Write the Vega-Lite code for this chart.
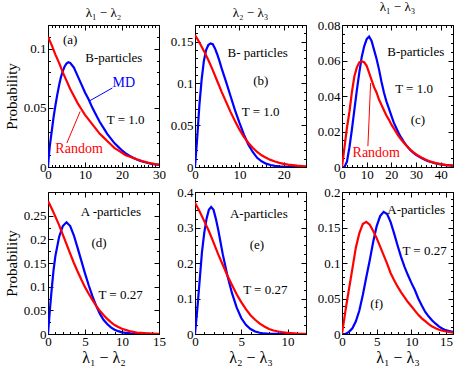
{
"$schema": "https://vega.github.io/schema/vega-lite/v6.json",
"padding": {"left": 3, "top": 0, "right": 1, "bottom": 1},
"bounds": "flush",
"columns": 3,
"spacing": {"row": 25, "column": 36},
"config": {
 "font": "Liberation Serif",
 "view": {"stroke": "#000", "strokeWidth": 1},
 "axis": {"domain": false, "grid": false, "ticks": true, "tickColor": "#000", "tickWidth": 1, "tickOpacity": 1, "labelColor": "#000", "labelFont": "Liberation Serif", "labelFontSize": 13, "labelOverlap": false, "labelFlush": false, "labelPadding": 1, "titleFont": "Liberation Serif", "titleFontWeight": "normal", "titleColor": "#000", "format": ".2~f", "zindex": 1},
 "axisY": {"labelPadding": 2},
 "point": {"opacity": 0},
 "title": {"font": "Liberation Serif", "fontWeight": "normal", "fontSize": 13, "color": "#000", "frame": "group", "offset": 5},
 "text": {"font": "Liberation Serif"}
},
"datasets": {
 "curves": [
  {"p":"a","s":"MD","x":0,"y":0},{"p":"a","s":"MD","x":0.25,"y":0.01},{"p":"a","s":"MD","x":0.5,"y":0.018},{"p":"a","s":"MD","x":1,"y":0.03},{"p":"a","s":"MD","x":1.5,"y":0.042},{"p":"a","s":"MD","x":2,"y":0.052},{"p":"a","s":"MD","x":2.5,"y":0.061},{"p":"a","s":"MD","x":3,"y":0.069},{"p":"a","s":"MD","x":3.5,"y":0.076},{"p":"a","s":"MD","x":4,"y":0.081},{"p":"a","s":"MD","x":4.5,"y":0.085},{"p":"a","s":"MD","x":5,"y":0.0875},{"p":"a","s":"MD","x":5.5,"y":0.0885},{"p":"a","s":"MD","x":6,"y":0.088},{"p":"a","s":"MD","x":6.5,"y":0.086},{"p":"a","s":"MD","x":7,"y":0.084},{"p":"a","s":"MD","x":8,"y":0.077},{"p":"a","s":"MD","x":9,"y":0.07},{"p":"a","s":"MD","x":10,"y":0.063},{"p":"a","s":"MD","x":11,"y":0.057},{"p":"a","s":"MD","x":12,"y":0.05},{"p":"a","s":"MD","x":13,"y":0.044},{"p":"a","s":"MD","x":14,"y":0.038},{"p":"a","s":"MD","x":15,"y":0.033},{"p":"a","s":"MD","x":16,"y":0.028},{"p":"a","s":"MD","x":17,"y":0.024},{"p":"a","s":"MD","x":18,"y":0.02},{"p":"a","s":"MD","x":19,"y":0.017},{"p":"a","s":"MD","x":20,"y":0.014},{"p":"a","s":"MD","x":21,"y":0.0115},{"p":"a","s":"MD","x":22,"y":0.0095},{"p":"a","s":"MD","x":23,"y":0.0078},{"p":"a","s":"MD","x":24,"y":0.0064},{"p":"a","s":"MD","x":25,"y":0.0052},{"p":"a","s":"MD","x":26,"y":0.0042},{"p":"a","s":"MD","x":27,"y":0.0034},{"p":"a","s":"MD","x":28,"y":0.0027},{"p":"a","s":"MD","x":29,"y":0.0022},{"p":"a","s":"MD","x":30,"y":0.0018},
  {"p":"a","s":"Random","x":0,"y":0.11},{"p":"a","s":"Random","x":1,"y":0.103},{"p":"a","s":"Random","x":2,"y":0.095},{"p":"a","s":"Random","x":3,"y":0.088},{"p":"a","s":"Random","x":4,"y":0.08},{"p":"a","s":"Random","x":5,"y":0.073},{"p":"a","s":"Random","x":6,"y":0.066},{"p":"a","s":"Random","x":7,"y":0.06},{"p":"a","s":"Random","x":8,"y":0.054},{"p":"a","s":"Random","x":9,"y":0.049},{"p":"a","s":"Random","x":10,"y":0.044},{"p":"a","s":"Random","x":11,"y":0.04},{"p":"a","s":"Random","x":12,"y":0.036},{"p":"a","s":"Random","x":13,"y":0.032},{"p":"a","s":"Random","x":14,"y":0.028},{"p":"a","s":"Random","x":15,"y":0.025},{"p":"a","s":"Random","x":16,"y":0.022},{"p":"a","s":"Random","x":17,"y":0.019},{"p":"a","s":"Random","x":18,"y":0.016},{"p":"a","s":"Random","x":19,"y":0.014},{"p":"a","s":"Random","x":20,"y":0.012},{"p":"a","s":"Random","x":21,"y":0.01},{"p":"a","s":"Random","x":22,"y":0.0088},{"p":"a","s":"Random","x":23,"y":0.0077},{"p":"a","s":"Random","x":24,"y":0.0065},{"p":"a","s":"Random","x":25,"y":0.0055},{"p":"a","s":"Random","x":26,"y":0.0045},{"p":"a","s":"Random","x":27,"y":0.0037},{"p":"a","s":"Random","x":28,"y":0.003},{"p":"a","s":"Random","x":29,"y":0.0024},{"p":"a","s":"Random","x":30,"y":0.002},
  {"p":"b","s":"MD","x":0,"y":0},{"p":"b","s":"MD","x":0.5,"y":0.035},{"p":"b","s":"MD","x":1,"y":0.075},{"p":"b","s":"MD","x":1.5,"y":0.105},{"p":"b","s":"MD","x":2,"y":0.127},{"p":"b","s":"MD","x":2.5,"y":0.14},{"p":"b","s":"MD","x":3,"y":0.146},{"p":"b","s":"MD","x":3.5,"y":0.148},{"p":"b","s":"MD","x":4,"y":0.147},{"p":"b","s":"MD","x":4.5,"y":0.142},{"p":"b","s":"MD","x":5,"y":0.135},{"p":"b","s":"MD","x":5.5,"y":0.127},{"p":"b","s":"MD","x":6,"y":0.118},{"p":"b","s":"MD","x":7,"y":0.102},{"p":"b","s":"MD","x":8,"y":0.085},{"p":"b","s":"MD","x":9,"y":0.068},{"p":"b","s":"MD","x":10,"y":0.053},{"p":"b","s":"MD","x":11,"y":0.039},{"p":"b","s":"MD","x":12,"y":0.027},{"p":"b","s":"MD","x":13,"y":0.018},{"p":"b","s":"MD","x":14,"y":0.011},{"p":"b","s":"MD","x":15,"y":0.0068},{"p":"b","s":"MD","x":16,"y":0.004},{"p":"b","s":"MD","x":17,"y":0.0024},{"p":"b","s":"MD","x":18,"y":0.0014},{"p":"b","s":"MD","x":19,"y":0.0008},{"p":"b","s":"MD","x":20,"y":0.0005},{"p":"b","s":"MD","x":22,"y":0.0002},{"p":"b","s":"MD","x":25,"y":0},
  {"p":"b","s":"Random","x":0,"y":0.158},{"p":"b","s":"Random","x":1,"y":0.149},{"p":"b","s":"Random","x":2,"y":0.139},{"p":"b","s":"Random","x":3,"y":0.128},{"p":"b","s":"Random","x":4,"y":0.116},{"p":"b","s":"Random","x":5,"y":0.103},{"p":"b","s":"Random","x":6,"y":0.09},{"p":"b","s":"Random","x":7,"y":0.078},{"p":"b","s":"Random","x":8,"y":0.066},{"p":"b","s":"Random","x":9,"y":0.055},{"p":"b","s":"Random","x":10,"y":0.045},{"p":"b","s":"Random","x":11,"y":0.036},{"p":"b","s":"Random","x":12,"y":0.029},{"p":"b","s":"Random","x":13,"y":0.023},{"p":"b","s":"Random","x":14,"y":0.018},{"p":"b","s":"Random","x":15,"y":0.014},{"p":"b","s":"Random","x":16,"y":0.011},{"p":"b","s":"Random","x":17,"y":0.0085},{"p":"b","s":"Random","x":18,"y":0.0065},{"p":"b","s":"Random","x":19,"y":0.005},{"p":"b","s":"Random","x":20,"y":0.0038},{"p":"b","s":"Random","x":21,"y":0.0029},{"p":"b","s":"Random","x":22,"y":0.0022},{"p":"b","s":"Random","x":23,"y":0.0016},{"p":"b","s":"Random","x":24,"y":0.0012},{"p":"b","s":"Random","x":25,"y":0.0009},
  {"p":"c","s":"MD","x":0,"y":0},{"p":"c","s":"MD","x":1,"y":0},{"p":"c","s":"MD","x":2,"y":0.003},{"p":"c","s":"MD","x":3,"y":0.011},{"p":"c","s":"MD","x":4,"y":0.021},{"p":"c","s":"MD","x":5,"y":0.032},{"p":"c","s":"MD","x":6,"y":0.043},{"p":"c","s":"MD","x":7,"y":0.053},{"p":"c","s":"MD","x":8,"y":0.062},{"p":"c","s":"MD","x":9,"y":0.068},{"p":"c","s":"MD","x":10,"y":0.072},{"p":"c","s":"MD","x":11,"y":0.0735},{"p":"c","s":"MD","x":12,"y":0.071},{"p":"c","s":"MD","x":13,"y":0.066},{"p":"c","s":"MD","x":14,"y":0.061},{"p":"c","s":"MD","x":15,"y":0.055},{"p":"c","s":"MD","x":16,"y":0.048},{"p":"c","s":"MD","x":17,"y":0.042},{"p":"c","s":"MD","x":18,"y":0.037},{"p":"c","s":"MD","x":19,"y":0.033},{"p":"c","s":"MD","x":20,"y":0.029},{"p":"c","s":"MD","x":21,"y":0.025},{"p":"c","s":"MD","x":22,"y":0.022},{"p":"c","s":"MD","x":23,"y":0.019},{"p":"c","s":"MD","x":24,"y":0.0165},{"p":"c","s":"MD","x":25,"y":0.0143},{"p":"c","s":"MD","x":26,"y":0.0123},{"p":"c","s":"MD","x":27,"y":0.0107},{"p":"c","s":"MD","x":28,"y":0.0092},{"p":"c","s":"MD","x":29,"y":0.008},{"p":"c","s":"MD","x":30,"y":0.0069},{"p":"c","s":"MD","x":31,"y":0.006},{"p":"c","s":"MD","x":32,"y":0.0052},{"p":"c","s":"MD","x":33,"y":0.0045},{"p":"c","s":"MD","x":34,"y":0.0038},{"p":"c","s":"MD","x":35,"y":0.0033},{"p":"c","s":"MD","x":36,"y":0.0028},{"p":"c","s":"MD","x":38,"y":0.002},{"p":"c","s":"MD","x":40,"y":0.0015},{"p":"c","s":"MD","x":42,"y":0.0011},{"p":"c","s":"MD","x":45,"y":0.0008},
  {"p":"c","s":"Random","x":0,"y":0},{"p":"c","s":"Random","x":1,"y":0.011},{"p":"c","s":"Random","x":2,"y":0.022},{"p":"c","s":"Random","x":3,"y":0.031},{"p":"c","s":"Random","x":4,"y":0.042},{"p":"c","s":"Random","x":5,"y":0.051},{"p":"c","s":"Random","x":6,"y":0.056},{"p":"c","s":"Random","x":7,"y":0.059},{"p":"c","s":"Random","x":8,"y":0.0595},{"p":"c","s":"Random","x":9,"y":0.059},{"p":"c","s":"Random","x":10,"y":0.057},{"p":"c","s":"Random","x":11,"y":0.053},{"p":"c","s":"Random","x":12,"y":0.049},{"p":"c","s":"Random","x":13,"y":0.045},{"p":"c","s":"Random","x":14,"y":0.042},{"p":"c","s":"Random","x":15,"y":0.038},{"p":"c","s":"Random","x":16,"y":0.035},{"p":"c","s":"Random","x":17,"y":0.032},{"p":"c","s":"Random","x":18,"y":0.029},{"p":"c","s":"Random","x":19,"y":0.0267},{"p":"c","s":"Random","x":20,"y":0.024},{"p":"c","s":"Random","x":21,"y":0.0218},{"p":"c","s":"Random","x":22,"y":0.0195},{"p":"c","s":"Random","x":23,"y":0.0173},{"p":"c","s":"Random","x":24,"y":0.0155},{"p":"c","s":"Random","x":25,"y":0.0138},{"p":"c","s":"Random","x":26,"y":0.0122},{"p":"c","s":"Random","x":27,"y":0.0107},{"p":"c","s":"Random","x":28,"y":0.0094},{"p":"c","s":"Random","x":29,"y":0.0082},{"p":"c","s":"Random","x":30,"y":0.0072},{"p":"c","s":"Random","x":31,"y":0.0063},{"p":"c","s":"Random","x":32,"y":0.0055},{"p":"c","s":"Random","x":33,"y":0.0048},{"p":"c","s":"Random","x":34,"y":0.0041},{"p":"c","s":"Random","x":35,"y":0.0035},{"p":"c","s":"Random","x":36,"y":0.003},{"p":"c","s":"Random","x":38,"y":0.0022},{"p":"c","s":"Random","x":40,"y":0.0016},{"p":"c","s":"Random","x":42,"y":0.0012},{"p":"c","s":"Random","x":45,"y":0.0008},
  {"p":"d","s":"MD","x":0,"y":0},{"p":"d","s":"MD","x":0.25,"y":0.05},{"p":"d","s":"MD","x":0.5,"y":0.095},{"p":"d","s":"MD","x":0.75,"y":0.135},{"p":"d","s":"MD","x":1,"y":0.165},{"p":"d","s":"MD","x":1.5,"y":0.205},{"p":"d","s":"MD","x":2,"y":0.228},{"p":"d","s":"MD","x":2.5,"y":0.236},{"p":"d","s":"MD","x":3,"y":0.228},{"p":"d","s":"MD","x":3.5,"y":0.208},{"p":"d","s":"MD","x":4,"y":0.182},{"p":"d","s":"MD","x":4.5,"y":0.155},{"p":"d","s":"MD","x":5,"y":0.128},{"p":"d","s":"MD","x":5.5,"y":0.103},{"p":"d","s":"MD","x":6,"y":0.08},{"p":"d","s":"MD","x":6.5,"y":0.06},{"p":"d","s":"MD","x":7,"y":0.043},{"p":"d","s":"MD","x":7.5,"y":0.03},{"p":"d","s":"MD","x":8,"y":0.021},{"p":"d","s":"MD","x":8.5,"y":0.014},{"p":"d","s":"MD","x":9,"y":0.009},{"p":"d","s":"MD","x":9.5,"y":0.006},{"p":"d","s":"MD","x":10,"y":0.0035},{"p":"d","s":"MD","x":11,"y":0.0012},{"p":"d","s":"MD","x":12,"y":0.0004},{"p":"d","s":"MD","x":13,"y":0.0001},{"p":"d","s":"MD","x":15,"y":0},
  {"p":"d","s":"Random","x":0,"y":0.281},{"p":"d","s":"Random","x":0.5,"y":0.265},{"p":"d","s":"Random","x":1,"y":0.248},{"p":"d","s":"Random","x":1.5,"y":0.23},{"p":"d","s":"Random","x":2,"y":0.21},{"p":"d","s":"Random","x":2.5,"y":0.19},{"p":"d","s":"Random","x":3,"y":0.17},{"p":"d","s":"Random","x":3.5,"y":0.15},{"p":"d","s":"Random","x":4,"y":0.132},{"p":"d","s":"Random","x":4.5,"y":0.115},{"p":"d","s":"Random","x":5,"y":0.099},{"p":"d","s":"Random","x":5.5,"y":0.085},{"p":"d","s":"Random","x":6,"y":0.072},{"p":"d","s":"Random","x":6.5,"y":0.06},{"p":"d","s":"Random","x":7,"y":0.049},{"p":"d","s":"Random","x":7.5,"y":0.04},{"p":"d","s":"Random","x":8,"y":0.032},{"p":"d","s":"Random","x":8.5,"y":0.025},{"p":"d","s":"Random","x":9,"y":0.019},{"p":"d","s":"Random","x":9.5,"y":0.015},{"p":"d","s":"Random","x":10,"y":0.011},{"p":"d","s":"Random","x":11,"y":0.006},{"p":"d","s":"Random","x":12,"y":0.003},{"p":"d","s":"Random","x":13,"y":0.0017},{"p":"d","s":"Random","x":14,"y":0.001},{"p":"d","s":"Random","x":15,"y":0.0005},
  {"p":"e","s":"MD","x":0,"y":0},{"p":"e","s":"MD","x":0.25,"y":0.07},{"p":"e","s":"MD","x":0.5,"y":0.15},{"p":"e","s":"MD","x":0.75,"y":0.23},{"p":"e","s":"MD","x":1,"y":0.285},{"p":"e","s":"MD","x":1.25,"y":0.325},{"p":"e","s":"MD","x":1.5,"y":0.35},{"p":"e","s":"MD","x":1.75,"y":0.358},{"p":"e","s":"MD","x":2,"y":0.35},{"p":"e","s":"MD","x":2.25,"y":0.325},{"p":"e","s":"MD","x":2.5,"y":0.295},{"p":"e","s":"MD","x":2.75,"y":0.26},{"p":"e","s":"MD","x":3,"y":0.225},{"p":"e","s":"MD","x":3.5,"y":0.165},{"p":"e","s":"MD","x":4,"y":0.115},{"p":"e","s":"MD","x":4.5,"y":0.075},{"p":"e","s":"MD","x":5,"y":0.045},{"p":"e","s":"MD","x":5.5,"y":0.026},{"p":"e","s":"MD","x":6,"y":0.014},{"p":"e","s":"MD","x":6.5,"y":0.007},{"p":"e","s":"MD","x":7,"y":0.0035},{"p":"e","s":"MD","x":7.5,"y":0.0015},{"p":"e","s":"MD","x":8,"y":0.0006},{"p":"e","s":"MD","x":9,"y":0.0001},{"p":"e","s":"MD","x":12,"y":0},
  {"p":"e","s":"Random","x":0,"y":0.37},{"p":"e","s":"Random","x":0.5,"y":0.345},{"p":"e","s":"Random","x":1,"y":0.318},{"p":"e","s":"Random","x":1.5,"y":0.29},{"p":"e","s":"Random","x":2,"y":0.258},{"p":"e","s":"Random","x":2.5,"y":0.225},{"p":"e","s":"Random","x":3,"y":0.195},{"p":"e","s":"Random","x":3.5,"y":0.165},{"p":"e","s":"Random","x":4,"y":0.138},{"p":"e","s":"Random","x":4.5,"y":0.112},{"p":"e","s":"Random","x":5,"y":0.09},{"p":"e","s":"Random","x":5.5,"y":0.07},{"p":"e","s":"Random","x":6,"y":0.053},{"p":"e","s":"Random","x":6.5,"y":0.04},{"p":"e","s":"Random","x":7,"y":0.029},{"p":"e","s":"Random","x":7.5,"y":0.021},{"p":"e","s":"Random","x":8,"y":0.014},{"p":"e","s":"Random","x":8.5,"y":0.01},{"p":"e","s":"Random","x":9,"y":0.007},{"p":"e","s":"Random","x":9.5,"y":0.005},{"p":"e","s":"Random","x":10,"y":0.003},{"p":"e","s":"Random","x":11,"y":0.0012},{"p":"e","s":"Random","x":12,"y":0.0005},
  {"p":"f","s":"MD","x":0,"y":0},{"p":"f","s":"MD","x":0.5,"y":0},{"p":"f","s":"MD","x":1,"y":0.003},{"p":"f","s":"MD","x":1.5,"y":0.008},{"p":"f","s":"MD","x":2,"y":0.018},{"p":"f","s":"MD","x":2.5,"y":0.033},{"p":"f","s":"MD","x":3,"y":0.055},{"p":"f","s":"MD","x":3.5,"y":0.08},{"p":"f","s":"MD","x":4,"y":0.104},{"p":"f","s":"MD","x":4.5,"y":0.13},{"p":"f","s":"MD","x":5,"y":0.152},{"p":"f","s":"MD","x":5.5,"y":0.166},{"p":"f","s":"MD","x":6,"y":0.172},{"p":"f","s":"MD","x":6.5,"y":0.169},{"p":"f","s":"MD","x":7,"y":0.158},{"p":"f","s":"MD","x":7.5,"y":0.142},{"p":"f","s":"MD","x":8,"y":0.125},{"p":"f","s":"MD","x":8.5,"y":0.109},{"p":"f","s":"MD","x":9,"y":0.095},{"p":"f","s":"MD","x":9.5,"y":0.083},{"p":"f","s":"MD","x":10,"y":0.072},{"p":"f","s":"MD","x":10.5,"y":0.062},{"p":"f","s":"MD","x":11,"y":0.05},{"p":"f","s":"MD","x":11.5,"y":0.04},{"p":"f","s":"MD","x":12,"y":0.031},{"p":"f","s":"MD","x":12.5,"y":0.0245},{"p":"f","s":"MD","x":13,"y":0.019},{"p":"f","s":"MD","x":13.5,"y":0.0145},{"p":"f","s":"MD","x":14,"y":0.0104},{"p":"f","s":"MD","x":14.5,"y":0.0075},{"p":"f","s":"MD","x":15,"y":0.005},{"p":"f","s":"MD","x":16,"y":0.003},
  {"p":"f","s":"Random","x":0,"y":0},{"p":"f","s":"Random","x":0.5,"y":0.033},{"p":"f","s":"Random","x":1,"y":0.063},{"p":"f","s":"Random","x":1.5,"y":0.092},{"p":"f","s":"Random","x":2,"y":0.122},{"p":"f","s":"Random","x":2.5,"y":0.142},{"p":"f","s":"Random","x":3,"y":0.155},{"p":"f","s":"Random","x":3.5,"y":0.158},{"p":"f","s":"Random","x":4,"y":0.154},{"p":"f","s":"Random","x":4.5,"y":0.145},{"p":"f","s":"Random","x":5,"y":0.135},{"p":"f","s":"Random","x":5.5,"y":0.123},{"p":"f","s":"Random","x":6,"y":0.111},{"p":"f","s":"Random","x":6.5,"y":0.099},{"p":"f","s":"Random","x":7,"y":0.086},{"p":"f","s":"Random","x":7.5,"y":0.076},{"p":"f","s":"Random","x":8,"y":0.067},{"p":"f","s":"Random","x":8.5,"y":0.059},{"p":"f","s":"Random","x":9,"y":0.052},{"p":"f","s":"Random","x":9.5,"y":0.045},{"p":"f","s":"Random","x":10,"y":0.039},{"p":"f","s":"Random","x":10.5,"y":0.033},{"p":"f","s":"Random","x":11,"y":0.027},{"p":"f","s":"Random","x":11.5,"y":0.022},{"p":"f","s":"Random","x":12,"y":0.018},{"p":"f","s":"Random","x":12.5,"y":0.014},{"p":"f","s":"Random","x":13,"y":0.0105},{"p":"f","s":"Random","x":13.5,"y":0.008},{"p":"f","s":"Random","x":14,"y":0.006},{"p":"f","s":"Random","x":14.5,"y":0.0045},{"p":"f","s":"Random","x":15,"y":0.0035},{"p":"f","s":"Random","x":16,"y":0.002}
 ],
 "labels": [
  {"p":"a","t":"(a)","x":6.0,"y":0.107,"s":"none"},{"p":"a","t":"B-particles","x":17.8,"y":0.092,"s":"none"},{"p":"a","t":"MD","x":20.5,"y":0.071,"s":"MD"},{"p":"a","t":"T = 1.0","x":21,"y":0.04,"s":"none"},{"p":"a","t":"Random","x":8.4,"y":0.0155,"s":"Random"},
  {"p":"b","t":"B- particles","x":14.1,"y":0.1365,"s":"none"},{"p":"b","t":"(b)","x":14.8,"y":0.1026,"s":"none"},{"p":"b","t":"T = 1.0","x":14.8,"y":0.0659,"s":"none"},
  {"p":"c","t":"B-particles","x":29.9,"y":0.0648,"s":"none"},{"p":"c","t":"T = 1.0","x":29.2,"y":0.0441,"s":"none"},{"p":"c","t":"(c)","x":30.8,"y":0.0266,"s":"none"},{"p":"c","t":"Random","x":13.9,"y":0.0079,"s":"Random"},
  {"p":"d","t":"A -particles","x":8.5,"y":0.257,"s":"none"},{"p":"d","t":"(d)","x":6.9,"y":0.192,"s":"none"},{"p":"d","t":"T = 0.27","x":9.8,"y":0.0817,"s":"none"},
  {"p":"e","t":"A-particles","x":6.9,"y":0.339,"s":"none"},{"p":"e","t":"(e)","x":6.7,"y":0.2516,"s":"none"},{"p":"e","t":"T = 0.27","x":7.6,"y":0.125,"s":"none"},
  {"p":"f","t":"A-particles","x":10.7,"y":0.175,"s":"none"},{"p":"f","t":"T = 0.27","x":11.9,"y":0.117,"s":"none"},{"p":"f","t":"(f)","x":5.0,"y":0.042,"s":"none"}
 ],
 "pointers": [
  {"p":"a","s":"MD","x":17.4,"y":0.0668,"x2":11.3,"y2":0.056},
  {"p":"a","s":"Random","x":5.1,"y":0.0203,"x2":8.7,"y2":0.047},
  {"p":"c","s":"Random","x":10.5,"y":0.0117,"x2":11.6,"y2":0.0473}
 ]
},
"concat": [
 {
  "width": 111, "height": 142, "title": "λ₁ − λ₂",
  "resolve": {"axis": {"x": "independent", "y": "independent"}},
  "layer": [
   {"data": {"name": "curves"}, "transform": [{"filter": "datum.p === 'a'"}],
    "mark": {"type": "line", "strokeWidth": 2.2, "clip": true},
    "encoding": {
     "x": {"field": "x", "type": "quantitative", "scale": {"domain": [0, 30], "nice": false}, "axis": {"orient": "bottom", "title": null, "ticks": false, "values": [0,10,20,30]}},
     "y": {"field": "y", "type": "quantitative", "scale": {"domain": [0, 0.12], "nice": false}, "axis": {"orient": "left", "title": "Probability", "titleFontSize": 15, "titlePadding": 4, "ticks": false, "values": [0,0.05,0.1]}},
     "color": {"field": "s", "type": "nominal", "scale": {"domain": ["MD", "Random", "none"], "range": ["#0000ff", "#ff0000", "#000000"]}, "legend": null}
    }},
   {"data": {"name": "labels"}, "transform": [{"filter": "datum.p === 'a'"}],
    "mark": {"type": "text", "align": "center", "baseline": "middle"},
    "encoding": {
     "x": {"field": "x", "type": "quantitative", "scale": {"domain": [0, 30], "nice": false}, "axis": {"orient": "bottom", "title": null, "labels": false, "tickSize": 5, "offset": -5, "values": [0,10,20,30]}},
     "y": {"field": "y", "type": "quantitative", "scale": {"domain": [0, 0.12], "nice": false}, "axis": {"orient": "left", "title": null, "labels": false, "tickSize": 5, "offset": -5, "values": [0,0.05,0.1]}},
     "text": {"field": "t"},
     "size": {"condition": {"test": "datum.s !== 'none'", "value": 14}, "value": 13},
     "color": {"field": "s", "type": "nominal", "scale": {"domain": ["MD", "Random", "none"], "range": ["#0000ff", "#ff0000", "#000000"]}, "legend": null}
    }},
   {"data": {"name": "pointers"}, "transform": [{"filter": "false"}], "mark": "point",
    "encoding": {
     "x": {"field": "x", "type": "quantitative", "scale": {"domain": [0, 30], "nice": false}, "axis": {"orient": "bottom", "title": null, "labels": false, "tickSize": 2.5, "offset": -2.5, "values": [0,1,2,3,4,5,6,7,8,9,10,11,12,13,14,15,16,17,18,19,20,21,22,23,24,25,26,27,28,29,30]}},
     "y": {"field": "y", "type": "quantitative", "scale": {"domain": [0, 0.12], "nice": false}, "axis": {"orient": "left", "title": null, "labels": false, "tickSize": 2.5, "offset": -2.5, "values": [0,0.01,0.02,0.03,0.04,0.05,0.06,0.07,0.08,0.09,0.1,0.11,0.12]}}
    }},
   {"data": {"name": "pointers"}, "transform": [{"filter": "false"}], "mark": "point",
    "encoding": {
     "x": {"field": "x", "type": "quantitative", "scale": {"domain": [0, 30], "nice": false}, "axis": {"orient": "top", "title": null, "labels": false, "tickSize": 5, "offset": -5, "values": [0,10,20,30]}},
     "y": {"field": "y", "type": "quantitative", "scale": {"domain": [0, 0.12], "nice": false}, "axis": {"orient": "right", "title": null, "labels": false, "tickSize": 5, "offset": -5, "values": [0,0.05,0.1]}}
    }},
   {"data": {"name": "pointers"}, "transform": [{"filter": "false"}], "mark": "point",
    "encoding": {
     "x": {"field": "x", "type": "quantitative", "scale": {"domain": [0, 30], "nice": false}, "axis": {"orient": "top", "title": null, "labels": false, "tickSize": 2.5, "offset": -2.5, "values": [0,1,2,3,4,5,6,7,8,9,10,11,12,13,14,15,16,17,18,19,20,21,22,23,24,25,26,27,28,29,30]}},
     "y": {"field": "y", "type": "quantitative", "scale": {"domain": [0, 0.12], "nice": false}, "axis": {"orient": "right", "title": null, "labels": false, "tickSize": 2.5, "offset": -2.5, "values": [0,0.01,0.02,0.03,0.04,0.05,0.06,0.07,0.08,0.09,0.1,0.11,0.12]}}
    }},
   {"data": {"name": "pointers"}, "transform": [{"filter": "datum.p === 'a'"}],
    "mark": {"type": "rule", "strokeWidth": 1},
    "encoding": {
     "x": {"field": "x", "type": "quantitative", "scale": {"domain": [0, 30], "nice": false}, "axis": null},
     "y": {"field": "y", "type": "quantitative", "scale": {"domain": [0, 0.12], "nice": false}, "axis": null},
     "x2": {"field": "x2"}, "y2": {"field": "y2"},
     "color": {"field": "s", "type": "nominal", "scale": {"domain": ["MD", "Random", "none"], "range": ["#0000ff", "#ff0000", "#000000"]}, "legend": null}
    }}
  ]
 },
 {
  "width": 111, "height": 142, "title": "λ₂ − λ₃",
  "resolve": {"axis": {"x": "independent", "y": "independent"}},
  "layer": [
   {"data": {"name": "curves"}, "transform": [{"filter": "datum.p === 'b'"}],
    "mark": {"type": "line", "strokeWidth": 2.2, "clip": true},
    "encoding": {
     "x": {"field": "x", "type": "quantitative", "scale": {"domain": [0, 25], "nice": false}, "axis": {"orient": "bottom", "title": null, "ticks": false, "values": [0,10,20]}},
     "y": {"field": "y", "type": "quantitative", "scale": {"domain": [0, 0.17], "nice": false}, "axis": {"orient": "left", "title": null, "ticks": false, "values": [0,0.05,0.1,0.15]}},
     "color": {"field": "s", "type": "nominal", "scale": {"domain": ["MD", "Random", "none"], "range": ["#0000ff", "#ff0000", "#000000"]}, "legend": null}
    }},
   {"data": {"name": "labels"}, "transform": [{"filter": "datum.p === 'b'"}],
    "mark": {"type": "text", "align": "center", "baseline": "middle"},
    "encoding": {
     "x": {"field": "x", "type": "quantitative", "scale": {"domain": [0, 25], "nice": false}, "axis": {"orient": "bottom", "title": null, "labels": false, "tickSize": 5, "offset": -5, "values": [0,10,20]}},
     "y": {"field": "y", "type": "quantitative", "scale": {"domain": [0, 0.17], "nice": false}, "axis": {"orient": "left", "title": null, "labels": false, "tickSize": 5, "offset": -5, "values": [0,0.05,0.1,0.15]}},
     "text": {"field": "t"},
     "size": {"condition": {"test": "datum.s !== 'none'", "value": 14}, "value": 13},
     "color": {"field": "s", "type": "nominal", "scale": {"domain": ["MD", "Random", "none"], "range": ["#0000ff", "#ff0000", "#000000"]}, "legend": null}
    }},
   {"data": {"name": "pointers"}, "transform": [{"filter": "false"}], "mark": "point",
    "encoding": {
     "x": {"field": "x", "type": "quantitative", "scale": {"domain": [0, 25], "nice": false}, "axis": {"orient": "bottom", "title": null, "labels": false, "tickSize": 2.5, "offset": -2.5, "values": [0,1,2,3,4,5,6,7,8,9,10,11,12,13,14,15,16,17,18,19,20,21,22,23,24,25]}},
     "y": {"field": "y", "type": "quantitative", "scale": {"domain": [0, 0.17], "nice": false}, "axis": {"orient": "left", "title": null, "labels": false, "tickSize": 2.5, "offset": -2.5, "values": [0,0.01,0.02,0.03,0.04,0.05,0.06,0.07,0.08,0.09,0.1,0.11,0.12,0.13,0.14,0.15,0.16,0.17]}}
    }},
   {"data": {"name": "pointers"}, "transform": [{"filter": "false"}], "mark": "point",
    "encoding": {
     "x": {"field": "x", "type": "quantitative", "scale": {"domain": [0, 25], "nice": false}, "axis": {"orient": "top", "title": null, "labels": false, "tickSize": 5, "offset": -5, "values": [0,10,20]}},
     "y": {"field": "y", "type": "quantitative", "scale": {"domain": [0, 0.17], "nice": false}, "axis": {"orient": "right", "title": null, "labels": false, "tickSize": 5, "offset": -5, "values": [0,0.05,0.1,0.15]}}
    }},
   {"data": {"name": "pointers"}, "transform": [{"filter": "false"}], "mark": "point",
    "encoding": {
     "x": {"field": "x", "type": "quantitative", "scale": {"domain": [0, 25], "nice": false}, "axis": {"orient": "top", "title": null, "labels": false, "tickSize": 2.5, "offset": -2.5, "values": [0,1,2,3,4,5,6,7,8,9,10,11,12,13,14,15,16,17,18,19,20,21,22,23,24,25]}},
     "y": {"field": "y", "type": "quantitative", "scale": {"domain": [0, 0.17], "nice": false}, "axis": {"orient": "right", "title": null, "labels": false, "tickSize": 2.5, "offset": -2.5, "values": [0,0.01,0.02,0.03,0.04,0.05,0.06,0.07,0.08,0.09,0.1,0.11,0.12,0.13,0.14,0.15,0.16,0.17]}}
    }}
  ]
 },
 {
  "width": 111, "height": 142, "title": "λ₁ − λ₃",
  "resolve": {"axis": {"x": "independent", "y": "independent"}},
  "layer": [
   {"data": {"name": "curves"}, "transform": [{"filter": "datum.p === 'c'"}],
    "mark": {"type": "line", "strokeWidth": 2.2, "clip": true},
    "encoding": {
     "x": {"field": "x", "type": "quantitative", "scale": {"domain": [0, 45], "nice": false}, "axis": {"orient": "bottom", "title": null, "ticks": false, "values": [0,10,20,30,40]}},
     "y": {"field": "y", "type": "quantitative", "scale": {"domain": [0, 0.08], "nice": false}, "axis": {"orient": "left", "title": null, "ticks": false, "values": [0,0.02,0.04,0.06,0.08]}},
     "color": {"field": "s", "type": "nominal", "scale": {"domain": ["MD", "Random", "none"], "range": ["#0000ff", "#ff0000", "#000000"]}, "legend": null}
    }},
   {"data": {"name": "labels"}, "transform": [{"filter": "datum.p === 'c'"}],
    "mark": {"type": "text", "align": "center", "baseline": "middle"},
    "encoding": {
     "x": {"field": "x", "type": "quantitative", "scale": {"domain": [0, 45], "nice": false}, "axis": {"orient": "bottom", "title": null, "labels": false, "tickSize": 5, "offset": -5, "values": [0,10,20,30,40]}},
     "y": {"field": "y", "type": "quantitative", "scale": {"domain": [0, 0.08], "nice": false}, "axis": {"orient": "left", "title": null, "labels": false, "tickSize": 5, "offset": -5, "values": [0,0.02,0.04,0.06,0.08]}},
     "text": {"field": "t"},
     "size": {"condition": {"test": "datum.s !== 'none'", "value": 14}, "value": 13},
     "color": {"field": "s", "type": "nominal", "scale": {"domain": ["MD", "Random", "none"], "range": ["#0000ff", "#ff0000", "#000000"]}, "legend": null}
    }},
   {"data": {"name": "pointers"}, "transform": [{"filter": "false"}], "mark": "point",
    "encoding": {
     "x": {"field": "x", "type": "quantitative", "scale": {"domain": [0, 45], "nice": false}, "axis": {"orient": "bottom", "title": null, "labels": false, "tickSize": 2.5, "offset": -2.5, "values": [0,2,4,6,8,10,12,14,16,18,20,22,24,26,28,30,32,34,36,38,40,42,44]}},
     "y": {"field": "y", "type": "quantitative", "scale": {"domain": [0, 0.08], "nice": false}, "axis": {"orient": "left", "title": null, "labels": false, "tickSize": 2.5, "offset": -2.5, "values": [0,0.005,0.01,0.015,0.02,0.025,0.03,0.035,0.04,0.045,0.05,0.055,0.06,0.065,0.07,0.075,0.08]}}
    }},
   {"data": {"name": "pointers"}, "transform": [{"filter": "false"}], "mark": "point",
    "encoding": {
     "x": {"field": "x", "type": "quantitative", "scale": {"domain": [0, 45], "nice": false}, "axis": {"orient": "top", "title": null, "labels": false, "tickSize": 5, "offset": -5, "values": [0,10,20,30,40]}},
     "y": {"field": "y", "type": "quantitative", "scale": {"domain": [0, 0.08], "nice": false}, "axis": {"orient": "right", "title": null, "labels": false, "tickSize": 5, "offset": -5, "values": [0,0.02,0.04,0.06,0.08]}}
    }},
   {"data": {"name": "pointers"}, "transform": [{"filter": "false"}], "mark": "point",
    "encoding": {
     "x": {"field": "x", "type": "quantitative", "scale": {"domain": [0, 45], "nice": false}, "axis": {"orient": "top", "title": null, "labels": false, "tickSize": 2.5, "offset": -2.5, "values": [0,2,4,6,8,10,12,14,16,18,20,22,24,26,28,30,32,34,36,38,40,42,44]}},
     "y": {"field": "y", "type": "quantitative", "scale": {"domain": [0, 0.08], "nice": false}, "axis": {"orient": "right", "title": null, "labels": false, "tickSize": 2.5, "offset": -2.5, "values": [0,0.005,0.01,0.015,0.02,0.025,0.03,0.035,0.04,0.045,0.05,0.055,0.06,0.065,0.07,0.075,0.08]}}
    }},
   {"data": {"name": "pointers"}, "transform": [{"filter": "datum.p === 'c'"}],
    "mark": {"type": "rule", "strokeWidth": 1},
    "encoding": {
     "x": {"field": "x", "type": "quantitative", "scale": {"domain": [0, 45], "nice": false}, "axis": null},
     "y": {"field": "y", "type": "quantitative", "scale": {"domain": [0, 0.08], "nice": false}, "axis": null},
     "x2": {"field": "x2"}, "y2": {"field": "y2"},
     "color": {"field": "s", "type": "nominal", "scale": {"domain": ["MD", "Random", "none"], "range": ["#0000ff", "#ff0000", "#000000"]}, "legend": null}
    }}
  ]
 },
 {
  "width": 111, "height": 142,
  "resolve": {"axis": {"x": "independent", "y": "independent"}},
  "layer": [
   {"data": {"name": "curves"}, "transform": [{"filter": "datum.p === 'd'"}],
    "mark": {"type": "line", "strokeWidth": 2.2, "clip": true},
    "encoding": {
     "x": {"field": "x", "type": "quantitative", "scale": {"domain": [0, 15], "nice": false}, "axis": {"orient": "bottom", "title": "λ₁ − λ₂", "titleFontSize": 16, "titlePadding": 1, "ticks": false, "values": [0,5,10,15]}},
     "y": {"field": "y", "type": "quantitative", "scale": {"domain": [0, 0.3], "nice": false}, "axis": {"orient": "left", "title": "Probability", "titleFontSize": 15, "titlePadding": 4, "ticks": false, "values": [0,0.05,0.1,0.15,0.2,0.25]}},
     "color": {"field": "s", "type": "nominal", "scale": {"domain": ["MD", "Random", "none"], "range": ["#0000ff", "#ff0000", "#000000"]}, "legend": null}
    }},
   {"data": {"name": "labels"}, "transform": [{"filter": "datum.p === 'd'"}],
    "mark": {"type": "text", "align": "center", "baseline": "middle"},
    "encoding": {
     "x": {"field": "x", "type": "quantitative", "scale": {"domain": [0, 15], "nice": false}, "axis": {"orient": "bottom", "title": null, "labels": false, "tickSize": 5, "offset": -5, "values": [0,5,10,15]}},
     "y": {"field": "y", "type": "quantitative", "scale": {"domain": [0, 0.3], "nice": false}, "axis": {"orient": "left", "title": null, "labels": false, "tickSize": 5, "offset": -5, "values": [0,0.05,0.1,0.15,0.2,0.25]}},
     "text": {"field": "t"},
     "size": {"condition": {"test": "datum.s !== 'none'", "value": 14}, "value": 13},
     "color": {"field": "s", "type": "nominal", "scale": {"domain": ["MD", "Random", "none"], "range": ["#0000ff", "#ff0000", "#000000"]}, "legend": null}
    }},
   {"data": {"name": "pointers"}, "transform": [{"filter": "false"}], "mark": "point",
    "encoding": {
     "x": {"field": "x", "type": "quantitative", "scale": {"domain": [0, 15], "nice": false}, "axis": {"orient": "bottom", "title": null, "labels": false, "tickSize": 2.5, "offset": -2.5, "values": [0,1,2,3,4,5,6,7,8,9,10,11,12,13,14,15]}},
     "y": {"field": "y", "type": "quantitative", "scale": {"domain": [0, 0.3], "nice": false}, "axis": {"orient": "left", "title": null, "labels": false, "tickSize": 2.5, "offset": -2.5, "values": [0,0.025,0.05,0.075,0.1,0.125,0.15,0.175,0.2,0.225,0.25,0.275]}}
    }},
   {"data": {"name": "pointers"}, "transform": [{"filter": "false"}], "mark": "point",
    "encoding": {
     "x": {"field": "x", "type": "quantitative", "scale": {"domain": [0, 15], "nice": false}, "axis": {"orient": "top", "title": null, "labels": false, "tickSize": 5, "offset": -5, "values": [0,5,10,15]}},
     "y": {"field": "y", "type": "quantitative", "scale": {"domain": [0, 0.3], "nice": false}, "axis": {"orient": "right", "title": null, "labels": false, "tickSize": 5, "offset": -5, "values": [0,0.05,0.1,0.15,0.2,0.25]}}
    }},
   {"data": {"name": "pointers"}, "transform": [{"filter": "false"}], "mark": "point",
    "encoding": {
     "x": {"field": "x", "type": "quantitative", "scale": {"domain": [0, 15], "nice": false}, "axis": {"orient": "top", "title": null, "labels": false, "tickSize": 2.5, "offset": -2.5, "values": [0,1,2,3,4,5,6,7,8,9,10,11,12,13,14,15]}},
     "y": {"field": "y", "type": "quantitative", "scale": {"domain": [0, 0.3], "nice": false}, "axis": {"orient": "right", "title": null, "labels": false, "tickSize": 2.5, "offset": -2.5, "values": [0,0.025,0.05,0.075,0.1,0.125,0.15,0.175,0.2,0.225,0.25,0.275]}}
    }}
  ]
 },
 {
  "width": 111, "height": 142,
  "resolve": {"axis": {"x": "independent", "y": "independent"}},
  "layer": [
   {"data": {"name": "curves"}, "transform": [{"filter": "datum.p === 'e'"}],
    "mark": {"type": "line", "strokeWidth": 2.2, "clip": true},
    "encoding": {
     "x": {"field": "x", "type": "quantitative", "scale": {"domain": [0, 12], "nice": false}, "axis": {"orient": "bottom", "title": "λ₂ − λ₃", "titleFontSize": 16, "titlePadding": 1, "ticks": false, "values": [0,5,10]}},
     "y": {"field": "y", "type": "quantitative", "scale": {"domain": [0, 0.4], "nice": false}, "axis": {"orient": "left", "title": null, "ticks": false, "values": [0,0.1,0.2,0.3,0.4]}},
     "color": {"field": "s", "type": "nominal", "scale": {"domain": ["MD", "Random", "none"], "range": ["#0000ff", "#ff0000", "#000000"]}, "legend": null}
    }},
   {"data": {"name": "labels"}, "transform": [{"filter": "datum.p === 'e'"}],
    "mark": {"type": "text", "align": "center", "baseline": "middle"},
    "encoding": {
     "x": {"field": "x", "type": "quantitative", "scale": {"domain": [0, 12], "nice": false}, "axis": {"orient": "bottom", "title": null, "labels": false, "tickSize": 5, "offset": -5, "values": [0,5,10]}},
     "y": {"field": "y", "type": "quantitative", "scale": {"domain": [0, 0.4], "nice": false}, "axis": {"orient": "left", "title": null, "labels": false, "tickSize": 5, "offset": -5, "values": [0,0.1,0.2,0.3,0.4]}},
     "text": {"field": "t"},
     "size": {"condition": {"test": "datum.s !== 'none'", "value": 14}, "value": 13},
     "color": {"field": "s", "type": "nominal", "scale": {"domain": ["MD", "Random", "none"], "range": ["#0000ff", "#ff0000", "#000000"]}, "legend": null}
    }},
   {"data": {"name": "pointers"}, "transform": [{"filter": "false"}], "mark": "point",
    "encoding": {
     "x": {"field": "x", "type": "quantitative", "scale": {"domain": [0, 12], "nice": false}, "axis": {"orient": "bottom", "title": null, "labels": false, "tickSize": 2.5, "offset": -2.5, "values": [0,1,2,3,4,5,6,7,8,9,10,11,12]}},
     "y": {"field": "y", "type": "quantitative", "scale": {"domain": [0, 0.4], "nice": false}, "axis": {"orient": "left", "title": null, "labels": false, "tickSize": 2.5, "offset": -2.5, "values": [0,0.025,0.05,0.075,0.1,0.125,0.15,0.175,0.2,0.225,0.25,0.275,0.3,0.325,0.35,0.375,0.4]}}
    }},
   {"data": {"name": "pointers"}, "transform": [{"filter": "false"}], "mark": "point",
    "encoding": {
     "x": {"field": "x", "type": "quantitative", "scale": {"domain": [0, 12], "nice": false}, "axis": {"orient": "top", "title": null, "labels": false, "tickSize": 5, "offset": -5, "values": [0,5,10]}},
     "y": {"field": "y", "type": "quantitative", "scale": {"domain": [0, 0.4], "nice": false}, "axis": {"orient": "right", "title": null, "labels": false, "tickSize": 5, "offset": -5, "values": [0,0.1,0.2,0.3,0.4]}}
    }},
   {"data": {"name": "pointers"}, "transform": [{"filter": "false"}], "mark": "point",
    "encoding": {
     "x": {"field": "x", "type": "quantitative", "scale": {"domain": [0, 12], "nice": false}, "axis": {"orient": "top", "title": null, "labels": false, "tickSize": 2.5, "offset": -2.5, "values": [0,1,2,3,4,5,6,7,8,9,10,11,12]}},
     "y": {"field": "y", "type": "quantitative", "scale": {"domain": [0, 0.4], "nice": false}, "axis": {"orient": "right", "title": null, "labels": false, "tickSize": 2.5, "offset": -2.5, "values": [0,0.025,0.05,0.075,0.1,0.125,0.15,0.175,0.2,0.225,0.25,0.275,0.3,0.325,0.35,0.375,0.4]}}
    }}
  ]
 },
 {
  "width": 111, "height": 142,
  "resolve": {"axis": {"x": "independent", "y": "independent"}},
  "layer": [
   {"data": {"name": "curves"}, "transform": [{"filter": "datum.p === 'f'"}],
    "mark": {"type": "line", "strokeWidth": 2.2, "clip": true},
    "encoding": {
     "x": {"field": "x", "type": "quantitative", "scale": {"domain": [0, 16], "nice": false}, "axis": {"orient": "bottom", "title": "λ₁ − λ₃", "titleFontSize": 16, "titlePadding": 1, "ticks": false, "values": [0,5,10,15]}},
     "y": {"field": "y", "type": "quantitative", "scale": {"domain": [0, 0.2], "nice": false}, "axis": {"orient": "left", "title": null, "ticks": false, "values": [0,0.05,0.1,0.15,0.2]}},
     "color": {"field": "s", "type": "nominal", "scale": {"domain": ["MD", "Random", "none"], "range": ["#0000ff", "#ff0000", "#000000"]}, "legend": null}
    }},
   {"data": {"name": "labels"}, "transform": [{"filter": "datum.p === 'f'"}],
    "mark": {"type": "text", "align": "center", "baseline": "middle"},
    "encoding": {
     "x": {"field": "x", "type": "quantitative", "scale": {"domain": [0, 16], "nice": false}, "axis": {"orient": "bottom", "title": null, "labels": false, "tickSize": 5, "offset": -5, "values": [0,5,10,15]}},
     "y": {"field": "y", "type": "quantitative", "scale": {"domain": [0, 0.2], "nice": false}, "axis": {"orient": "left", "title": null, "labels": false, "tickSize": 5, "offset": -5, "values": [0,0.05,0.1,0.15,0.2]}},
     "text": {"field": "t"},
     "size": {"condition": {"test": "datum.s !== 'none'", "value": 14}, "value": 13},
     "color": {"field": "s", "type": "nominal", "scale": {"domain": ["MD", "Random", "none"], "range": ["#0000ff", "#ff0000", "#000000"]}, "legend": null}
    }},
   {"data": {"name": "pointers"}, "transform": [{"filter": "false"}], "mark": "point",
    "encoding": {
     "x": {"field": "x", "type": "quantitative", "scale": {"domain": [0, 16], "nice": false}, "axis": {"orient": "bottom", "title": null, "labels": false, "tickSize": 2.5, "offset": -2.5, "values": [0,1,2,3,4,5,6,7,8,9,10,11,12,13,14,15,16]}},
     "y": {"field": "y", "type": "quantitative", "scale": {"domain": [0, 0.2], "nice": false}, "axis": {"orient": "left", "title": null, "labels": false, "tickSize": 2.5, "offset": -2.5, "values": [0,0.01,0.02,0.03,0.04,0.05,0.06,0.07,0.08,0.09,0.1,0.11,0.12,0.13,0.14,0.15,0.16,0.17,0.18,0.19,0.2]}}
    }},
   {"data": {"name": "pointers"}, "transform": [{"filter": "false"}], "mark": "point",
    "encoding": {
     "x": {"field": "x", "type": "quantitative", "scale": {"domain": [0, 16], "nice": false}, "axis": {"orient": "top", "title": null, "labels": false, "tickSize": 5, "offset": -5, "values": [0,5,10,15]}},
     "y": {"field": "y", "type": "quantitative", "scale": {"domain": [0, 0.2], "nice": false}, "axis": {"orient": "right", "title": null, "labels": false, "tickSize": 5, "offset": -5, "values": [0,0.05,0.1,0.15,0.2]}}
    }},
   {"data": {"name": "pointers"}, "transform": [{"filter": "false"}], "mark": "point",
    "encoding": {
     "x": {"field": "x", "type": "quantitative", "scale": {"domain": [0, 16], "nice": false}, "axis": {"orient": "top", "title": null, "labels": false, "tickSize": 2.5, "offset": -2.5, "values": [0,1,2,3,4,5,6,7,8,9,10,11,12,13,14,15,16]}},
     "y": {"field": "y", "type": "quantitative", "scale": {"domain": [0, 0.2], "nice": false}, "axis": {"orient": "right", "title": null, "labels": false, "tickSize": 2.5, "offset": -2.5, "values": [0,0.01,0.02,0.03,0.04,0.05,0.06,0.07,0.08,0.09,0.1,0.11,0.12,0.13,0.14,0.15,0.16,0.17,0.18,0.19,0.2]}}
    }}
  ]
 }
]
}
